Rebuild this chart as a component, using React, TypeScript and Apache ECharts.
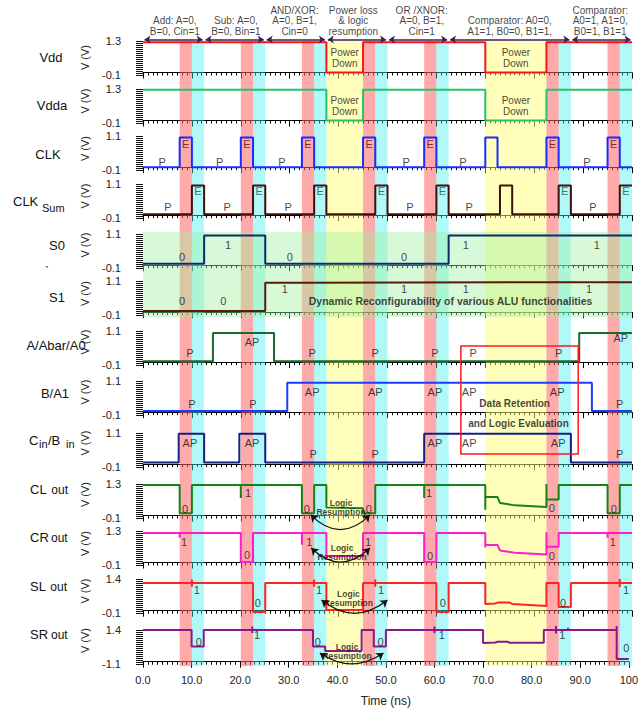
import React, { useEffect, useRef } from 'react';
import * as echarts from 'echarts';

const FONT = "'Liberation Sans', Arial, Helvetica, sans-serif";
const W = 641, H = 710;
const LEFT = 143, RIGHT = 9;
const PLOT_W = W - LEFT - RIGHT;
const tx = (t: number) => LEFT + (t / 100) * PLOT_W;

// ---------- layout (pixel rows) ----------
const AXIS_Y = [77, 125, 172, 220, 270, 317, 367, 417, 469, 520, 567, 615, 666];
const VDD_TOP = 38;

// ---------- axis labels ----------
const Y_TOP = [1.3, 1.3, 1.1, 1.1, 1.1, 1.1, 1.1, 1.1, 1.1, 1.3, 1.3, 1.4, 1.4];
const Y_BOT = -0.1;
const Y_TOP_LABELS = ['1.3', '1.3', '1.1', '1.1', '1.1', '1.1', '1.1', '1.1', '1.1', '1.3', '1.3', '1.4', '1.4'];
const Y_BOT_LABELS = ['-0.1', '-0.1', '-0.1', '-0.1', '-0.1', '-0.1', '-0.1', '-0.1', '-0.1', '-0.1', '-0.1', '-0.1', '-1.1'];

// ---------- bands (ns) ----------
const redBands = [[7.5, 10], [20, 22.5], [32.5, 35], [45, 47.5], [57.5, 60], [82.5, 85], [95, 97.5]];
const cyanBands = [[10, 12.5], [22.5, 25], [35, 37.5], [47.5, 50], [60, 62.5], [85, 87.5], [97.5, 100]];
const yellowBands = [[37.5, 45], [70, 82.5]];

// ---------- header ----------
const headerSegments = [[0, 12.5], [12.5, 25], [25, 37.5], [37.5, 50], [50, 62.5], [62.5, 87.5], [87.5, 100]];
const headerTexts: [number, string][] = [
  [6.5, 'Add: A=0,\nB=0, Cin=1'],
  [19, 'Sub: A=0,\nB=0, Bin=1'],
  [31, 'AND/XOR:\nA=0, B=1,\nCin=0'],
  [43, 'Power loss\n& logic\nresumption'],
  [57, 'OR /XNOR:\nA=0, B=1,\nCin=1'],
  [75, 'Comparator: A0=0,\nA1=1, B0=0, B1=1,'],
  [93.5, 'Comparator:\nA0=1, A1=0,\nB0=1, B1=1'],
];

// ---------- signals [t(ns), V] ----------
const vdd = [[0, 1.25], [37.5, 1.25], [37.5, 0], [45, 0], [45, 1.25], [70, 1.25], [70, 0], [82.5, 0], [82.5, 1.25], [100, 1.25]];
const vdda = [[0, 1.27], [37.5, 1.27], [37.5, 0], [45, 0], [45, 1.27], [70, 1.27], [70, 0], [82.5, 0], [82.5, 1.27], [100, 1.27]];
const clk = [[0, 0], [7.5, 0], [7.5, 1.05], [10, 1.05], [10, 0], [20, 0], [20, 1.05], [22.5, 1.05], [22.5, 0], [32.5, 0], [32.5, 1.05], [35, 1.05], [35, 0], [45, 0], [45, 1.05], [47.5, 1.05], [47.5, 0], [57.5, 0], [57.5, 1.05], [60, 1.05], [60, 0], [70, 0], [70, 1.05], [72.5, 1.05], [72.5, 0], [82.5, 0], [82.5, 1.05], [85, 1.05], [85, 0], [95, 0], [95, 1.05], [97.5, 1.05], [97.5, 0], [100, 0]];
const clkSum = [[0, 0.03], [10, 0.03], [10, 1.05], [12.5, 1.05], [12.5, 0.03], [22.5, 0.03], [22.5, 1.05], [25, 1.05], [25, 0.03], [35, 0.03], [35, 1.05], [37.5, 1.05], [37.5, 0.03], [47.5, 0.03], [47.5, 1.05], [50, 1.05], [50, 0.03], [60, 0.03], [60, 1.05], [62.5, 1.05], [62.5, 0.03], [73, 0.03], [73, 1.05], [75.5, 1.05], [75.5, 0.03], [85, 0.03], [85, 1.05], [87.5, 1.05], [87.5, 0.03], [97.5, 0.03], [97.5, 1.05], [100, 1.05]];
const s0 = [[0, 0.05], [12.5, 0.05], [12.5, 1.05], [25, 1.05], [25, 0.05], [62.5, 0.05], [62.5, 1.05], [100, 1.05]];
const s1 = [[0, 0.04], [25, 0.04], [25, 1.04], [32.5, 1.04], [32.5, 1.06], [100, 1.06]];
const aSig = [[0, 0.03], [14.3, 0.03], [14.3, 1.03], [26.8, 1.03], [26.8, 0.03], [89.2, 0.03], [89.2, 1.03], [100, 1.03]];
const bSig = [[0, 0.04], [29.5, 0.04], [29.5, 1.04], [91.8, 1.04], [91.8, 0.04], [100, 0.04]];
const cinSig = [[0, 0.06], [7.3, 0.06], [7.3, 1.07], [12.5, 1.07], [12.5, 0.06], [19.7, 0.06], [19.7, 1.07], [25, 1.07], [25, 0.06], [57.5, 0.06], [57.5, 1.07], [87.5, 1.07], [87.5, 0.06], [100, 0.06]];
const clOut = [[0, 1.26], [7.5, 1.26], [7.5, 0.1], [10, 0.1], [10, 1.26], [20, 1.26], [20, 0.72], [20, 1.26], [32.5, 1.26], [32.5, 0.1], [35, 0.1], [35, 1.26], [37.5, 1.26], [37.5, 0.33], [45, 0.3], [45, 0.1], [47.5, 0.1], [47.5, 1.26], [57.5, 1.26], [57.5, 0.72], [57.5, 1.26], [70, 1.26], [70, 0.24], [70, 0.76], [72.5, 0.76], [73, 0.52], [76, 0.42], [82.5, 0.35], [82.5, 1.3], [82.5, 0.66], [85, 0.66], [85, 1.26], [95, 1.26], [95, 0.1], [97.5, 0.1], [97.5, 1.26], [100, 1.26]];
const crOut = [[0, 1.22], [7.5, 1.22], [7.5, 1.02], [7.5, 1.22], [20, 1.22], [20, 0.02], [22.5, 0.02], [22.5, 1.22], [32.5, 1.22], [32.5, 0.73], [32.5, 1.22], [37.5, 1.22], [37.5, 0.27], [45, 0.27], [45, 1.22], [57.5, 1.22], [57.5, 0.02], [60, 0.02], [60, 1.22], [70, 1.22], [70, 0.62], [70, 0.72], [72.5, 0.72], [73, 0.5], [76, 0.4], [82.5, 0.33], [82.5, 1.25], [82.5, 0.65], [85, 0.65], [85, 1.22], [95, 1.22], [95, 1.02], [95, 1.22], [100, 1.22]];
const slOut = [[0, 1.22], [10, 1.22], [10, 1.38], [10, 1.06], [10, 1.22], [22.5, 1.22], [22.5, -0.06], [25, -0.06], [25, 1.22], [35, 1.22], [35, 1.38], [35, 1.06], [35, 1.22], [37.5, 1.22], [37.5, 0.03], [45, 0.03], [45, 1.22], [47.5, 1.22], [47.5, 1.38], [47.5, 1.06], [47.5, 1.22], [60, 1.22], [60, -0.06], [62.5, -0.06], [62.5, 1.22], [70, 1.22], [70, 0.3], [72, 0.32], [72.5, 0.36], [75, 0.36], [75.5, 0.3], [82.5, 0.21], [82.5, 1.22], [85, 1.22], [85, 0.16], [87.5, 0.16], [87.5, 1.22], [97.5, 1.22], [97.5, 1.4], [97.5, 1.04], [97.5, 1.22], [100, 1.22]];
const srOut = [[0, 1.4], [10, 1.4], [10, 0.67], [12.5, 0.67], [12.5, 1.4], [22.5, 1.4], [22.5, 1.55], [22.5, 1.27], [22.5, 1.4], [35, 1.4], [35, 0.67], [37.5, 0.67], [37.5, 0.47], [45, 0.47], [45, 1.4], [47.5, 1.4], [47.5, 0.67], [50, 0.67], [50, 1.4], [60, 1.4], [60, 1.55], [60, 1.27], [60, 1.4], [70, 1.4], [70, 0.83], [72.5, 0.85], [73, 0.88], [75, 0.88], [75.5, 0.84], [82.5, 0.84], [82.5, 1.4], [85, 1.4], [85, 1.58], [85, 1.25], [85, 1.4], [87.5, 1.4], [87.5, 1.5], [87.5, 1.4], [97.5, 1.4], [97.5, 1.58], [97.5, 0.12], [100, 0.12]];

const SIGNALS = [vdd, vdda, clk, clkSum, s0, s1, aSig, bSig, cinSig, clOut, crOut, slOut, srOut];
const LINE_COLORS = ['#ff1414', '#22c468', '#1a2cff', '#3c120a', '#0c2a6e', '#561c08', '#1a6a2a', '#1a3cff', '#14207e', '#168216', '#ff1ccc', '#ff2222', '#8c168c'];

// ---------- in-plot labels [t, V, text] ----------
const powerDownLabels: [number, number, string][] = [[41.25, 0.62, 'Power\nDown'], [76.25, 0.62, 'Power\nDown']];
const clkP: [number, number, string][] = [[3.9, 0.19, 'P'], [15.7, 0.19, 'P'], [28.4, 0.19, 'P'], [53.8, 0.19, 'P'], [65.4, 0.19, 'P'], [90.8, 0.19, 'P']];
const clkE: [number, number, string][] = [[8.75, 0.82, 'E'], [21.25, 0.82, 'E'], [33.75, 0.82, 'E'], [46.25, 0.82, 'E'], [58.75, 0.82, 'E'], [83.75, 0.82, 'E'], [96.25, 0.82, 'E']];
const sumP: [number, number, string][] = [[5.1, 0.29, 'P'], [17.2, 0.29, 'P'], [29.7, 0.29, 'P'], [54.6, 0.29, 'P'], [66.7, 0.29, 'P'], [92, 0.29, 'P']];
const sumE: [number, number, string][] = [[11.25, 0.86, 'E'], [23.75, 0.86, 'E'], [36.25, 0.86, 'E'], [48.75, 0.86, 'E'], [61.25, 0.86, 'E'], [86.25, 0.86, 'E'], [98.75, 0.86, 'E']];
const s0Labels: [number, number, string][] = [[8, 0.29, '0'], [17.4, 0.71, '1'], [30, 0.29, '0'], [53.4, 0.29, '0'], [66, 0.71, '1'], [92.8, 0.71, '1']];
const s1Labels: [number, number, string][] = [[8, 0.39, '0'], [16.4, 0.39, '0'], [29, 0.82, '1'], [53.4, 0.82, '1'], [66, 0.82, '1'], [91.2, 0.82, '1']];
const aLabels: [number, number, string][] = [[9.6, 0.32, 'P'], [22.3, 0.71, 'AP'], [34.6, 0.32, 'P'], [47.5, 0.32, 'P'], [59.7, 0.32, 'P'], [67.5, 0.32, 'P'], [85, 0.32, 'P'], [97.7, 0.85, 'AP']];
const bLabels: [number, number, string][] = [[10, 0.29, 'P'], [22.5, 0.29, 'P'], [34.6, 0.71, 'AP'], [47.5, 0.71, 'AP'], [59.7, 0.71, 'AP'], [66.7, 0.71, 'AP'], [84.7, 0.71, 'AP'], [97.5, 0.29, 'P']];
const cinLabels: [number, number, string][] = [[9.6, 0.76, 'AP'], [22.3, 0.76, 'AP'], [34.8, 0.36, 'P'], [47.5, 0.36, 'P'], [59.7, 0.76, 'AP'], [66.7, 0.76, 'AP'], [84.9, 0.76, 'AP'], [97.5, 0.36, 'P']];
const clLabels: [number, number, string][] = [[8.6, 0.27, '0'], [21.5, 0.93, '1'], [33.5, 0.27, '0'], [46.2, 0.27, '0'], [58.5, 0.93, '1'], [83.6, 0.3, '0'], [96.3, 0.27, '0']];
const crLabels: [number, number, string][] = [[8.4, 0.85, '1'], [21.3, 0.31, '0'], [34, 0.85, '1'], [46, 0.85, '1'], [58.7, 0.27, '0'], [83.6, 0.27, '0'], [96.1, 0.85, '1']];
const slLabels: [number, number, string][] = [[11, 0.91, '1'], [23.5, 0.34, '0'], [36, 0.91, '1'], [48.7, 0.91, '1'], [61.3, 0.34, '0'], [85.9, 0.34, '0'], [98.8, 0.91, '1']];
const srLabels: [number, number, string][] = [[11.5, 0.87, '0'], [23.5, 1.19, '1'], [36, 0.87, '0'], [48.9, 0.87, '0'], [61.5, 1.19, '1'], [86.3, 1.19, '1'], [99.5, 0.6, '0']];

// bold annotations [row, t, V, text, size]
const boldNotes: [number, number, number, string, number][] = [
  [5, 62.9, 0.39, 'Dynamic Reconfigurability of various ALU functionalities', 10.5],
  [7, 76, 0.29, 'Data Retention', 10],
  [8, 76.8, 1.42, 'and Logic Evaluation', 10],
  [9, 40.5, 0.33, 'Logic\nResumption', 8.5],
  [10, 40.7, 0.41, 'Logic\nResumption', 8.5],
  [11, 42, 0.52, 'Logic\nResumption', 8.5],
  [12, 42, 0.47, 'Logic\nResumption', 8.5],
];
// resumption arcs [row, t0, t1, V, curveness]
const resumptionArcs: [number, number, number, number, number][] = [
  [9, 34.3, 46.4, 0.03, -0.5],
  [10, 34.4, 46.4, 0.6, -0.48],
  [11, 36.5, 50, 0.47, -0.4],
  [12, 36.4, 49.5, 0.38, -0.34],
];

const rowLabelGroups: { row: number; data: [number, number, string][]; color: string; size: number }[] = [
  { row: 0, data: powerDownLabels, color: '#111', size: 10 },
  { row: 1, data: powerDownLabels, color: '#111', size: 10 },
  { row: 2, data: clkP, color: '#111', size: 11 },
  { row: 2, data: clkE, color: '#6a0000', size: 11 },
  { row: 3, data: sumP, color: '#111', size: 11 },
  { row: 3, data: sumE, color: '#1e4e4e', size: 11 },
  { row: 4, data: s0Labels, color: '#111', size: 11 },
  { row: 5, data: s1Labels, color: '#111', size: 11 },
  { row: 6, data: aLabels, color: '#111', size: 11 },
  { row: 7, data: bLabels, color: '#111', size: 11 },
  { row: 8, data: cinLabels, color: '#111', size: 11 },
  { row: 9, data: clLabels, color: '#111', size: 11 },
  { row: 10, data: crLabels, color: '#111', size: 11 },
  { row: 11, data: slLabels, color: '#111', size: 11 },
  { row: 12, data: srLabels, color: '#111', size: 11 },
];

function rowScale(i: number) {
  const top = i === 0 ? VDD_TOP : AXIS_Y[i - 1];
  const bottom = AXIS_Y[i];
  const vt = Y_TOP[i];
  const ppu = 34 / (vt - Y_BOT);
  const min = Y_BOT - 2 / ppu;
  const max = vt + ((bottom - 36) - top) / ppu;
  return { top, bottom, min, max, vt };
}

function buildOption() {
  const grid: any[] = [];
  const xAxis: any[] = [];
  const yAxis: any[] = [];
  const series: any[] = [];
  const N = AXIS_Y.length;

  for (let i = 0; i < N; i++) {
    const { top, bottom, min, max, vt } = rowScale(i);
    grid.push({ left: LEFT, right: RIGHT, top, height: bottom - top });
    const last = i === N - 1;
    xAxis.push({
      type: 'value', gridIndex: i, min: 0, max: 100, interval: 10,
      axisLine: { show: true, lineStyle: { color: '#000', width: 1 } },
      axisTick: { show: true, length: 6, lineStyle: { color: '#000' } },
      minorTick: { show: true, splitNumber: 10, length: 3, lineStyle: { color: '#000' } },
      splitLine: { show: false },
      axisLabel: {
        show: last, fontSize: 11, color: '#222', margin: 8, fontFamily: FONT,
        formatter: (v: number) => (v === 100 ? '100' : v.toFixed(1)),
      },
      name: last ? 'Time (ns)' : '',
      nameLocation: 'middle', nameGap: 29,
      nameTextStyle: { fontSize: 12, color: '#222', fontFamily: FONT },
    });
    const ladder: number[] = [];
    for (let k = 0; k <= 17; k++) ladder.push(Y_BOT + ((vt - Y_BOT) * k) / 17);
    const topLab = Y_TOP_LABELS[i], botLab = Y_BOT_LABELS[i];
    const mid = (vt + Y_BOT) / 2;
    yAxis.push({
      type: 'value', gridIndex: i, min, max, offset: 10,
      axisLine: { show: false },
      splitLine: { show: false },
      axisTick: { show: true, length: 7, customValues: ladder, lineStyle: { color: '#111', width: 1 } },
      axisLabel: {
        show: true, customValues: [Y_BOT, vt], margin: 12, fontSize: 11, color: '#222', fontFamily: FONT,
        formatter: (v: number) => (v < mid ? botLab : topLab),
      },
      name: 'V (V)', nameLocation: 'middle', nameRotate: 90, nameGap: 43,
      nameTextStyle: { fontSize: 11, color: '#222', fontFamily: FONT },
    });
    series.push({
      type: 'line', xAxisIndex: i, yAxisIndex: i, data: SIGNALS[i],
      showSymbol: false, symbol: 'none', z: 3, silent: true,
      lineStyle: { color: LINE_COLORS[i], width: 2 },
    });
  }

  // header grid
  const HI = N;
  grid.push({ left: LEFT, right: RIGHT, top: 0, height: 42 });
  xAxis.push({ type: 'value', gridIndex: HI, min: 0, max: 100, show: false });
  yAxis.push({ type: 'value', gridIndex: HI, min: 0, max: 1, show: false });
  series.push({
    type: 'scatter', xAxisIndex: HI, yAxisIndex: HI, symbolSize: 1, silent: true, z: 4,
    itemStyle: { color: 'transparent' },
    data: headerTexts.map(([t, s]) => ({ value: [t, 0.1], name: s })),
    label: { show: true, position: 'top', distance: 1, formatter: '{b}', fontSize: 10, lineHeight: 10.5, color: '#111', fontFamily: FONT },
  });
  series.push({
    type: 'lines', coordinateSystem: 'cartesian2d', xAxisIndex: HI, yAxisIndex: HI,
    silent: true, clip: false, z: 4,
    symbol: ['arrow', 'arrow'], symbolSize: 6,
    lineStyle: { color: '#3c1f52', width: 1.5, opacity: 1 },
    data: headerSegments.map(([a, b]) => ({ coords: [[a + 0.3, 0.06], [b - 0.3, 0.06]] })),
  });

  // bands grid
  const BI = N + 1;
  grid.push({ left: LEFT, right: RIGHT, top: 41, height: AXIS_Y[N - 1] - 41 });
  xAxis.push({ type: 'value', gridIndex: BI, min: 0, max: 100, show: false });
  yAxis.push({ type: 'value', gridIndex: BI, min: 0, max: 1, show: false });
  const bandData: any[] = [];
  yellowBands.forEach(([a, b]) => bandData.push([{ xAxis: a, itemStyle: { color: 'rgba(255,255,120,0.5)' } }, { xAxis: b }]));
  redBands.forEach(([a, b]) => bandData.push([{ xAxis: a, itemStyle: { color: 'rgba(255,100,100,0.55)' } }, { xAxis: b }]));
  cyanBands.forEach(([a, b]) => bandData.push([{ xAxis: a, itemStyle: { color: 'rgba(70,240,240,0.42)' } }, { xAxis: b }]));
  series.push({
    type: 'line', xAxisIndex: BI, yAxisIndex: BI, data: [[0, 0.5], [100, 0.5]],
    showSymbol: false, symbol: 'none', lineStyle: { opacity: 0, width: 0 }, z: 1, silent: true,
    markArea: { silent: true, data: bandData },
  });

  // green S0/S1 background
  [4, 5].forEach((r) => {
    const sc = rowScale(r);
    const y0 = r === 4 ? 1.17 : sc.max;
    series.push({
      type: 'line', xAxisIndex: r, yAxisIndex: r, data: [[0, 0.5], [100, 0.5]],
      showSymbol: false, symbol: 'none', lineStyle: { opacity: 0, width: 0 }, z: 0, silent: true,
      markArea: {
        silent: true,
        data: [[{ xAxis: 0, yAxis: y0, itemStyle: { color: 'rgba(160,240,160,0.42)' } }, { xAxis: 100, yAxis: sc.min }]],
      },
    });
  });

  // labels
  rowLabelGroups.forEach((g) => {
    series.push({
      type: 'scatter', xAxisIndex: g.row, yAxisIndex: g.row, symbolSize: 1, silent: true, z: 4,
      itemStyle: { color: 'transparent' },
      data: g.data.map(([t, v, s]) => ({ value: [t, v], name: s })),
      label: { show: true, position: 'inside', formatter: '{b}', fontSize: g.size, lineHeight: g.size + 1, color: g.color, fontFamily: FONT },
    });
  });
  boldNotes.forEach(([r, t, v, s, fs]) => {
    series.push({
      type: 'scatter', xAxisIndex: r, yAxisIndex: r, symbolSize: 1, silent: true, z: 5,
      itemStyle: { color: 'transparent' },
      data: [{ value: [t, v], name: s }],
      label: { show: true, position: 'inside', formatter: '{b}', fontSize: fs, fontWeight: 'bold', lineHeight: fs + 0.5, color: '#111', fontFamily: FONT },
    });
  });
  resumptionArcs.forEach(([r, a, b, v, c]) => {
    series.push({
      type: 'lines', coordinateSystem: 'cartesian2d', xAxisIndex: r, yAxisIndex: r,
      silent: true, clip: false, z: 5,
      symbol: ['arrow', 'arrow'], symbolSize: 7,
      lineStyle: { color: '#111', width: 1.2, curveness: c, opacity: 1 },
      data: [{ coords: [[a, v], [b, v]] }],
    });
  });

  // row names and other graphics
  const txt = (text: string, x: number, y: number, size = 13, align = 'center') => ({
    type: 'text', x, y, z: 20, silent: true,
    style: { text, fontSize: size, fontFamily: FONT, fill: '#111', align, verticalAlign: 'middle', textAlign: align, textVerticalAlign: 'middle' },
  });
  const graphic: any[] = [
    txt('Vdd', 51, 57),
    txt('Vdda', 52, 105),
    txt('CLK', 48, 154),
    txt('CLK', 13, 201, 13, 'left'),
    txt('Sum', 42, 208, 11, 'left'),
    txt('S0', 57, 245),
    txt('`', 47, 272, 12),
    txt('S1', 57, 297),
    txt('A/Abar/A0', 56, 345),
    txt('B/A1', 55, 393),
    txt('C', 29, 440, 13, 'left'),
    txt('in', 39, 444, 11, 'left'),
    txt('/B', 48, 440, 13, 'left'),
    txt(' in', 63, 444, 11, 'left'),
    txt('CL', 30, 489, 13, 'left'),
    txt(' out', 48, 490, 12, 'left'),
    txt('CR', 30, 537, 13, 'left'),
    txt('out', 51, 538, 12, 'left'),
    txt('SL', 30, 586, 13, 'left'),
    txt(' out', 47, 587, 12, 'left'),
    txt('SR', 30, 634, 13, 'left'),
    txt('out', 51, 635, 12, 'left'),
    {
      type: 'rect', z: 20, silent: true,
      shape: { x: tx(65), y: 346, width: tx(89) - tx(65), height: 108 },
      style: { fill: 'none', stroke: '#ff1a1a', lineWidth: 1.5 },
    },
  ];

  return {
    animation: false,
    backgroundColor: '#fff',
    textStyle: { fontFamily: FONT },
    grid, xAxis, yAxis, series, graphic,
  };
}

export default function App() {
  const ref = useRef<HTMLDivElement>(null);
  useEffect(() => {
    const chart = echarts.init(ref.current!, null, { renderer: 'svg' });
    chart.setOption(buildOption() as any);
    return () => chart.dispose();
  }, []);
  return <div ref={ref} style={{ position: 'fixed', left: 0, top: 0, width: W, height: H, background: '#fff' }} />;
}
